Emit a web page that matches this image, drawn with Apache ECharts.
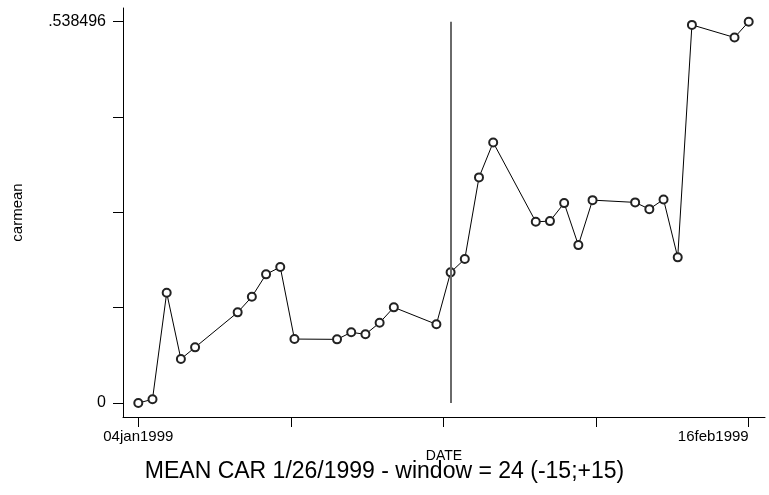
<!DOCTYPE html>
<html>
<head>
<meta charset="utf-8">
<script src="https://cdn.jsdelivr.net/npm/echarts@6/dist/echarts.min.js"></script>
<style>html,body{margin:0;padding:0;background:#fff;}#c{width:769px;height:495px;}</style>
</head>
<body>
<div id="c"></div>
<script>
// ---- data ----
const dates = ['1999-01-04','1999-01-05','1999-01-06','1999-01-07','1999-01-08',
  '1999-01-11','1999-01-12','1999-01-13','1999-01-14','1999-01-15',
  '1999-01-18','1999-01-19','1999-01-20','1999-01-21','1999-01-22',
  '1999-01-25','1999-01-26','1999-01-27','1999-01-28','1999-01-29',
  '1999-02-01','1999-02-02','1999-02-03','1999-02-04','1999-02-05',
  '1999-02-08','1999-02-09','1999-02-10','1999-02-11','1999-02-12',
  '1999-02-15','1999-02-16'];
const carmean = [0.0000,0.0052,0.1557,0.0621,0.0786,
  0.1280,0.1500,0.1817,0.1920,0.0903,
  0.0899,0.0998,0.0970,0.1133,0.1351,
  0.1111,0.1845,0.2033,0.3186,0.3680,
  0.2559,0.2569,0.2823,0.2230,0.2865,
  0.2833,0.2738,0.2875,0.2057,0.5340,
  0.5162,0.538496];
const eventDate = '1999-01-26';
const yTickValues = [0, 0.134624, 0.269248, 0.403872, 0.538496];
const yTickLabels = ['0', '', '', '', '.538496'];
const xTickDays = [0, 10.75, 21.5, 32.25, 43];
const xTickLabels = ['04jan1999', '', '', '', '16feb1999'];
const titleText = 'MEAN CAR 1/26/1999 - window = 24 (-15;+15)';

// ---- helpers ----
const DAY = 86400000;
const t0 = Date.UTC(1999, 0, 4);
function dayOf(s) { const p = s.split('-').map(Number); return (Date.UTC(p[0], p[1]-1, p[2]) - t0) / DAY; }
const seriesData = dates.map((d, i) => [dayOf(d), carmean[i]]);
const eventDay = dayOf(eventDate);
const yMaxVal = yTickValues[yTickValues.length - 1];

const font = "'Liberation Sans', Arial, sans-serif";
const chart = echarts.init(document.getElementById('c'), null, {renderer: 'canvas'});
chart.setOption({
  animation: false,
  backgroundColor: '#fff',
  title: {
    text: titleText, left: 'center', top: 455,
    textStyle: {fontFamily: font, fontSize: 23, fontWeight: 'normal', color: '#000'}
  },
  grid: {left: 123, right: 4, top: 8, bottom: 78, containLabel: false},
  xAxis: {
    type: 'value', min: -1.078, max: 44.148,
    name: 'DATE', nameLocation: 'middle', nameGap: 27,
    nameTextStyle: {fontFamily: font, fontSize: 14, color: '#000'},
    axisLine: {show: true, onZero: false, lineStyle: {color: '#000', width: 1}},
    axisTick: {show: true, length: 10, inside: false, customValues: xTickDays, lineStyle: {color: '#000'}},
    axisLabel: {
      customValues: [xTickDays[0], xTickDays[4]], margin: 12,
      fontFamily: font, fontSize: 15, color: '#000',
      alignMaxLabel: 'right',
      formatter: v => { const i = xTickDays.indexOf(v); return i >= 0 ? xTickLabels[i] : ''; }
    },
    splitLine: {show: false}
  },
  yAxis: {
    type: 'value', min: -0.01977, max: 0.55785,
    name: 'carmean', nameLocation: 'middle', nameGap: 98, nameRotate: 90,
    nameTextStyle: {fontFamily: font, fontSize: 15, color: '#000'},
    axisLine: {show: true, onZero: false, lineStyle: {color: '#000', width: 1}},
    axisTick: {show: true, length: 10, inside: false, customValues: yTickValues, lineStyle: {color: '#000'}},
    axisLabel: {
      customValues: [yTickValues[0], yTickValues[4]], margin: 17,
      fontFamily: font, fontSize: 16, color: '#000',
      formatter: v => { const i = yTickValues.indexOf(v); return i >= 0 ? yTickLabels[i] : ''; }
    },
    splitLine: {show: false}
  },
  series: [{
    type: 'line',
    data: seriesData,
    showAllSymbol: true,
    symbol: 'emptyCircle', symbolSize: 8,
    lineStyle: {color: '#000', width: 1},
    itemStyle: {color: '#222', borderWidth: 1},
    markLine: {
      silent: true, symbol: ['none', 'none'],
      label: {show: false},
      lineStyle: {color: '#6a6a6a', width: 2, type: 'solid'},
      data: [[{coord: [eventDay, 0]}, {coord: [eventDay, yMaxVal]}]]
    },
    z: 3
  }]
});
</script>
</body>
</html>
